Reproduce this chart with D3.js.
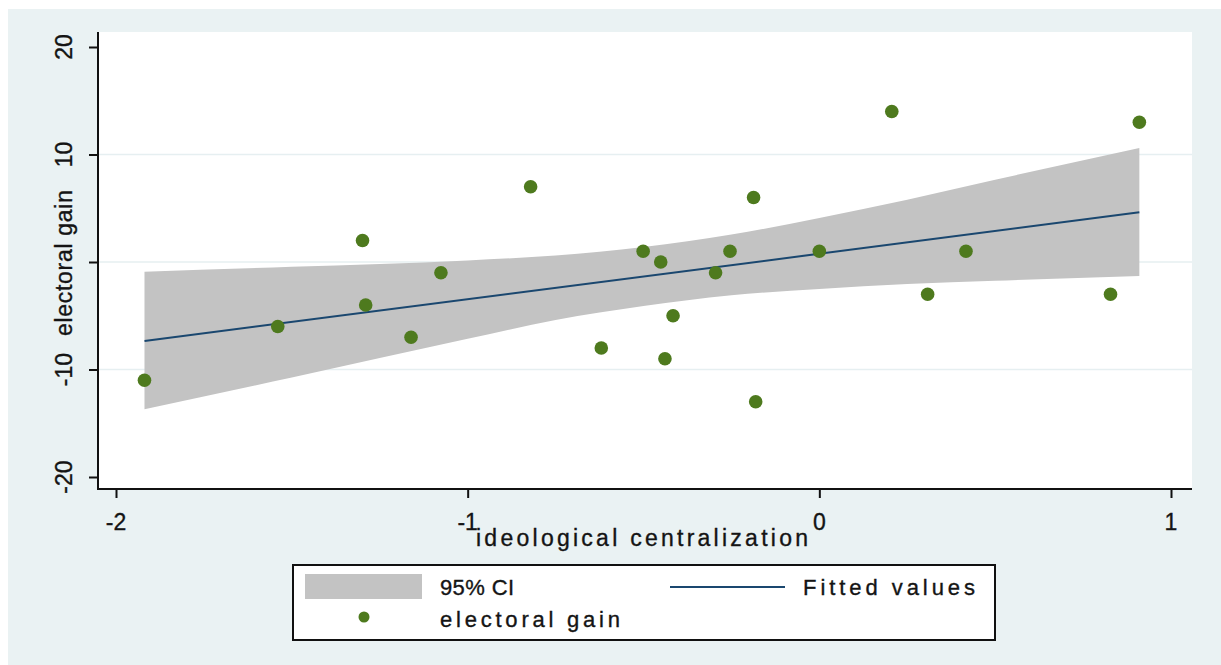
<!DOCTYPE html>
<html>
<head>
<meta charset="utf-8">
<script src="https://cdn.jsdelivr.net/npm/d3@7"></script>
<style>
  body { margin: 0; background: #fff; }
  text { font-family: "Liberation Sans", Arial, sans-serif; fill: #141414; stroke: #141414; stroke-width: 0.35px; }
</style>
</head>
<body>
<div id="chart"></div>
<script>
// Data
var ideoX = [-1.919, -1.54, -1.299, -1.29, -1.161, -1.076, -0.821, -0.62, -0.501, -0.451, -0.439,
             -0.416, -0.295, -0.254, -0.187, -0.181, 0, 0.206, 0.308, 0.417, 0.828, 0.91];
var gainY = [-11, -6, 2, -4, -7, -1, 7, -8, 1, 0, -9,
             -5, -1, 1, 6, -13, 1, 14, -3, 1, -3, 13];

var fitX = [-1.919, 0.91];
var fitY = [-7.35, 4.62];

var ciX = [-1.919, -1.5, -1.0, -0.75, -0.5, -0.25, 0, 0.25, 0.5, 0.91];
var ciLow = [-13.7, -10.75, -7.15, -5.4, -4.1, -3.1, -2.5, -2.05, -1.75, -1.3];
var ciHigh = [-0.9, -0.45, 0.15, 0.6, 1.4, 2.55, 4.1, 5.8, 7.65, 10.6];

var xTicks = [-2, -1, 0, 1];
var yTicks = [-20, -10, 0, 10, 20];
var yLabels = [-20, -10, 10, 20];   // the 0 label sits under the axis title
var gridTicks = [-10, 0, 10];

var svgWidth = 1221;
var svgHeight = 665;

var svg = d3.select("#chart")
    .append("svg")
    .attr("width", svgWidth)
    .attr("height", svgHeight);

// outer Stata-style background and white plot region
svg.append("rect")
    .attr("x", 8).attr("y", 9)
    .attr("width", svgWidth - 8).attr("height", svgHeight - 9)
    .attr("fill", "#eaf2f3");

var plot = { left: 98, top: 32, right: 1192, bottom: 489 };

svg.append("rect")
    .attr("x", plot.left).attr("y", plot.top)
    .attr("width", plot.right - plot.left).attr("height", plot.bottom - plot.top)
    .attr("fill", "#fff");

var x = d3.scaleLinear().domain([-2, 1]).range([116, 1171]);
var y = d3.scaleLinear().domain([-20, 20]).range([477, 47]);

// gridlines
svg.selectAll(".grid")
    .data(gridTicks)
    .join("line")
    .attr("class", "grid")
    .attr("x1", plot.left + 1).attr("x2", plot.right)
    .attr("y1", d => y(d)).attr("y2", d => y(d))
    .attr("stroke", "#e6eff1")
    .attr("stroke-width", 1.5);

// confidence band
var ciData = ciX.map(function(d, i) {
    return { x: d, lo: ciLow[i], hi: ciHigh[i] };
});

var area = d3.area()
    .x(d => x(d.x))
    .y0(d => y(d.lo))
    .y1(d => y(d.hi))
    .curve(d3.curveMonotoneX);

svg.append("path")
    .datum(ciData)
    .attr("d", area)
    .attr("fill", "#c3c3c3");

// fitted line
var fitData = fitX.map(function(d, i) { return { x: d, y: fitY[i] }; });

svg.append("path")
    .datum(fitData)
    .attr("d", d3.line().x(d => x(d.x)).y(d => y(d.y)))
    .attr("fill", "none")
    .attr("stroke", "#1a476f")
    .attr("stroke-width", 2);

// scatter points
svg.selectAll(".pt")
    .data(ideoX.map(function(d, i) { return { x: d, y: gainY[i] }; }))
    .join("circle")
    .attr("class", "pt")
    .attr("cx", d => x(d.x))
    .attr("cy", d => y(d.y))
    .attr("r", 6.8)
    .attr("fill", "#4e7a1e");

// axes
var yAxis = d3.axisLeft(y).tickValues(yTicks).tickSize(9).tickFormat("");
svg.append("g")
    .attr("transform", "translate(" + plot.left + ",0)")
    .call(yAxis)
    .call(g => g.select(".domain").remove())
    .call(g => g.selectAll(".tick line").attr("stroke", "#111").attr("stroke-width", 2));

var xAxis = d3.axisBottom(x).tickValues(xTicks).tickSize(9).tickFormat("");
svg.append("g")
    .attr("transform", "translate(0," + plot.bottom + ")")
    .call(xAxis)
    .call(g => g.select(".domain").remove())
    .call(g => g.selectAll(".tick line").attr("stroke", "#111").attr("stroke-width", 2));

svg.append("line")
    .attr("x1", plot.left).attr("x2", plot.left)
    .attr("y1", plot.top).attr("y2", plot.bottom + 1)
    .attr("stroke", "#111").attr("stroke-width", 2);

svg.append("line")
    .attr("x1", plot.left - 1).attr("x2", plot.right)
    .attr("y1", plot.bottom).attr("y2", plot.bottom)
    .attr("stroke", "#111").attr("stroke-width", 2);

// tick labels
svg.selectAll(".ylab")
    .data(yLabels)
    .join("text")
    .attr("class", "ylab")
    .attr("transform", d => "translate(72," + y(d) + ") rotate(-90)")
    .attr("text-anchor", "middle")
    .attr("font-size", 23)
    .text(d => d);

svg.selectAll(".xlab")
    .data(xTicks)
    .join("text")
    .attr("class", "xlab")
    .attr("x", d => x(d))
    .attr("y", 530)
    .attr("text-anchor", "middle")
    .attr("font-size", 23)
    .text(d => d);

// axis titles
svg.append("text")
    .attr("x", 476).attr("y", 546)
    .attr("font-size", 23)
    .attr("textLength", 332)
    .attr("lengthAdjust", "spacing")
    .text("ideological centralization");

svg.append("text")
    .attr("transform", "translate(72,263) rotate(-90)")
    .attr("text-anchor", "middle")
    .attr("font-size", 23)
    .attr("textLength", 146)
    .attr("lengthAdjust", "spacing")
    .text("electoral gain");

// legend
var lg = svg.append("g");

lg.append("rect")
    .attr("x", 293).attr("y", 565)
    .attr("width", 702).attr("height", 75)
    .attr("fill", "#fff")
    .attr("stroke", "#111")
    .attr("stroke-width", 2);

lg.append("rect")
    .attr("x", 305).attr("y", 574)
    .attr("width", 117).attr("height", 25)
    .attr("fill", "#c3c3c3");

lg.append("text")
    .attr("x", 440).attr("y", 595)
    .attr("font-size", 22)
    .attr("textLength", 74)
    .attr("lengthAdjust", "spacing")
    .text("95% CI");

lg.append("line")
    .attr("x1", 670).attr("x2", 785)
    .attr("y1", 587).attr("y2", 587)
    .attr("stroke", "#1a476f").attr("stroke-width", 2);

lg.append("text")
    .attr("x", 803).attr("y", 595)
    .attr("font-size", 22)
    .attr("textLength", 172)
    .attr("lengthAdjust", "spacing")
    .text("Fitted values");

lg.append("circle")
    .attr("cx", 364).attr("cy", 617)
    .attr("r", 5.5)
    .attr("fill", "#4e7a1e");

lg.append("text")
    .attr("x", 440).attr("y", 627)
    .attr("font-size", 22)
    .attr("textLength", 180)
    .attr("lengthAdjust", "spacing")
    .text("electoral gain");
</script>
</body>
</html>
